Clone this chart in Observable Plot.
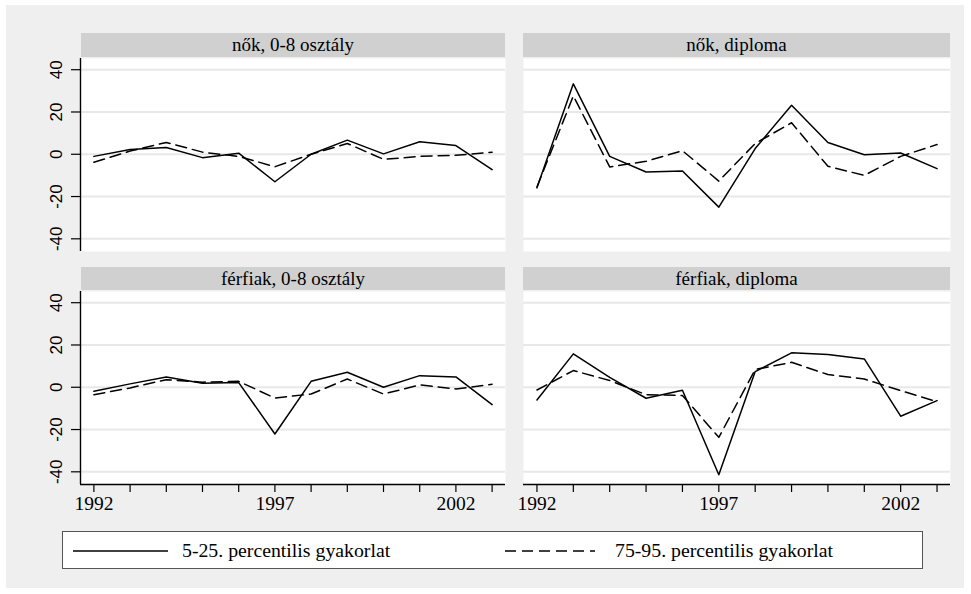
<!DOCTYPE html>
<html>
<head>
<meta charset="utf-8">
<script src="https://cdn.jsdelivr.net/npm/d3@7"></script>
<script src="https://cdn.jsdelivr.net/npm/@observablehq/plot@0.6"></script>
<style>
  html, body { margin: 0; padding: 0; background: #ffffff; }
  body { width: 971px; height: 594px; position: relative; overflow: hidden; font-family: "Liberation Serif", "Times New Roman", serif; color: #000; }
  #bg { position: absolute; left: 6px; top: 5px; width: 958px; height: 583px; background: #efefef; }
  .strip { position: absolute; background: #d0d0d0; text-align: center; font-size: 19px; color: #000; white-space: nowrap; }
  .panel { position: absolute; }
  .panel svg { overflow: visible; display: block; }
  #legend { position: absolute; left: 62px; top: 531px; width: 859px; height: 36px; background: #fff; border: 1px solid #555; }
  #legend .item { position: absolute; top: 0; height: 36px; line-height: 36px; font-size: 19.8px; white-space: nowrap; }
  #legend svg { position: absolute; top: 0; }
</style>
</head>
<body>
<div id="bg"></div>
<div id="chart"></div>
<div id="legend"></div>
<script>
// ---- data ----
const years = [1992, 1993, 1994, 1995, 1996, 1997, 1998, 1999, 2000, 2001, 2002, 2003];
const xTickLabels = [1992, 1997, 2002];
const yTicks = [-40, -20, 0, 20, 40];
const panelTitles = ["nők, 0-8 osztály", "nők, diploma", "férfiak, 0-8 osztály", "férfiak, diploma"];
const seriesNames = ["5-25. percentilis gyakorlat", "75-95. percentilis gyakorlat"];

const nok08Low   = [-1, 2.2, 3.2, -1.6, 0.5, -13, 0, 6.7, 0.2, 5.9, 4.1, -7.3];
const nok08High  = [-3.8, 1.5, 5.6, 1, -1, -5.9, 0, 5.1, -2.4, -1, -0.5, 1];
const nokDipLow  = [-15.9, 33.3, -1, -8.4, -7.9, -25, 2.7, 23.2, 5.6, -0.2, 0.6, -6.8];
const nokDipHigh = [-15.5, 27.6, -6, -3.3, 1.7, -12.7, 5.1, 14.9, -5.7, -10, -1, 4.6];
const ffi08Low   = [-1.9, 1.6, 4.9, 1.9, 2.2, -22.1, 2.8, 7.1, 0, 5.5, 4.9, -8.2];
const ffi08High  = [-3.5, -0.3, 3.6, 2.4, 2.8, -5.1, -3.2, 3.9, -3.2, 1.1, -0.8, 1.4];
const ffiDipLow  = [-6, 15.8, 4.7, -5.2, -1.4, -41.4, 7.4, 16.3, 15.5, 13.4, -13.7, -6.3];
const ffiDipHigh = [-1.3, 7.9, 3.2, -3.5, -3.9, -23.7, 8.4, 11.8, 6, 3.9, -1.6, -6.8];

const xDomain = [1991.63, 2003.37];
const yDomain = [-46, 45.3];

const panels = [
  {title: panelTitles[0], low: nok08Low,  high: nok08High,  left: 40,  top: 58,  w: 465, showY: true,  showX: false, stripTop: 33,  stripH: 24, stripLeft: 81,  stripW: 424},
  {title: panelTitles[1], low: nokDipLow, high: nokDipHigh, left: 523, top: 58,  w: 427, showY: false, showX: false, stripTop: 33,  stripH: 24, stripLeft: 523, stripW: 427},
  {title: panelTitles[2], low: ffi08Low,  high: ffi08High,  left: 40,  top: 291, w: 465, showY: true,  showX: true,  stripTop: 267, stripH: 23, stripLeft: 81,  stripW: 424},
  {title: panelTitles[3], low: ffiDipLow, high: ffiDipHigh, left: 523, top: 291, w: 427, showY: false, showX: true,  stripTop: 267, stripH: 23, stripLeft: 523, stripW: 427}
];

const chart = document.getElementById("chart");

for (const p of panels) {
  const strip = document.createElement("div");
  strip.className = "strip";
  strip.style.left = p.stripLeft + "px";
  strip.style.top = p.stripTop + "px";
  strip.style.width = p.stripW + "px";
  strip.style.height = p.stripH + "px";
  strip.style.lineHeight = p.stripH + "px";
  strip.textContent = p.title;
  chart.appendChild(strip);

  const lowRows = years.map((yr, i) => ({year: yr, value: p.low[i], series: seriesNames[0]}));
  const highRows = years.map((yr, i) => ({year: yr, value: p.high[i], series: seriesNames[1]}));

  const marginLeft = p.showY ? 40 : 0;
  const marginBottom = p.showX ? 35 : 0;
  const plotH = 193;

  const marks = [
    Plot.frame({fill: "#ffffff", stroke: null}),
    Plot.ruleY(yTicks, {stroke: "#e8e8e8", strokeWidth: 2})
  ];
  if (p.showY) {
    marks.push(Plot.axisY({ticks: yTicks, tickSize: 9, tickFormat: () => "", label: null, stroke: "#000", strokeWidth: 1.2}));
    marks.push(Plot.text(yTicks, {
      x: xDomain[0], y: d => d, text: d => String(d),
      rotate: -90, dx: -24, textAnchor: "middle", lineAnchor: "middle",
      fontSize: 17, fontFamily: "Liberation Sans, Arial, sans-serif", fill: "#000"
    }));
    marks.push(Plot.ruleX([xDomain[0]], {stroke: "#000", strokeWidth: 1.4}));
  }
  if (p.showX) {
    marks.push(Plot.axisX({
      ticks: years, tickSize: 8, tickPadding: 4,
      tickFormat: d => xTickLabels.includes(d) ? String(d) : "",
      label: null, stroke: "#000", strokeWidth: 1.2,
      fontSize: 19.5, fontFamily: "Liberation Serif, Times New Roman, serif", fill: "#000"
    }));
    marks.push(Plot.ruleY([yDomain[0]], {stroke: "#000", strokeWidth: 1.4}));
  }
  marks.push(Plot.line(highRows, {x: "year", y: "value", stroke: "#000", strokeWidth: 1.5, strokeDasharray: "11,6"}));
  marks.push(Plot.line(lowRows, {x: "year", y: "value", stroke: "#000", strokeWidth: 1.5}));

  const svg = Plot.plot({
    width: p.w,
    height: plotH + marginBottom,
    marginLeft, marginRight: 0, marginTop: 0, marginBottom,
    style: {background: "transparent", overflow: "visible"},
    x: {domain: xDomain, axis: p.showX ? undefined : null},
    y: {domain: yDomain, axis: p.showY ? undefined : null},
    marks
  });
  const wrap = document.createElement("div");
  wrap.className = "panel";
  wrap.style.left = p.left + "px";
  wrap.style.top = p.top + "px";
  wrap.appendChild(svg);
  chart.appendChild(wrap);
}

// legend
const legend = document.getElementById("legend");
const legendItems = [
  {name: seriesNames[0], lineX: 10, lineW: 95, textX: 119, dash: null},
  {name: seriesNames[1], lineX: 442, lineW: 90, textX: 552, dash: "11,6"}
];
for (const it of legendItems) {
  const s = d3.create("svg").attr("width", it.lineW).attr("height", 36).style("left", it.lineX + "px");
  s.append("line").attr("x1", 0).attr("x2", it.lineW).attr("y1", 19).attr("y2", 19)
    .attr("stroke", "#000").attr("stroke-width", 1.5).attr("stroke-dasharray", it.dash);
  legend.appendChild(s.node());
  const t = document.createElement("div");
  t.className = "item";
  t.style.left = it.textX + "px";
  t.textContent = it.name;
  legend.appendChild(t);
}
</script>
</body>
</html>
